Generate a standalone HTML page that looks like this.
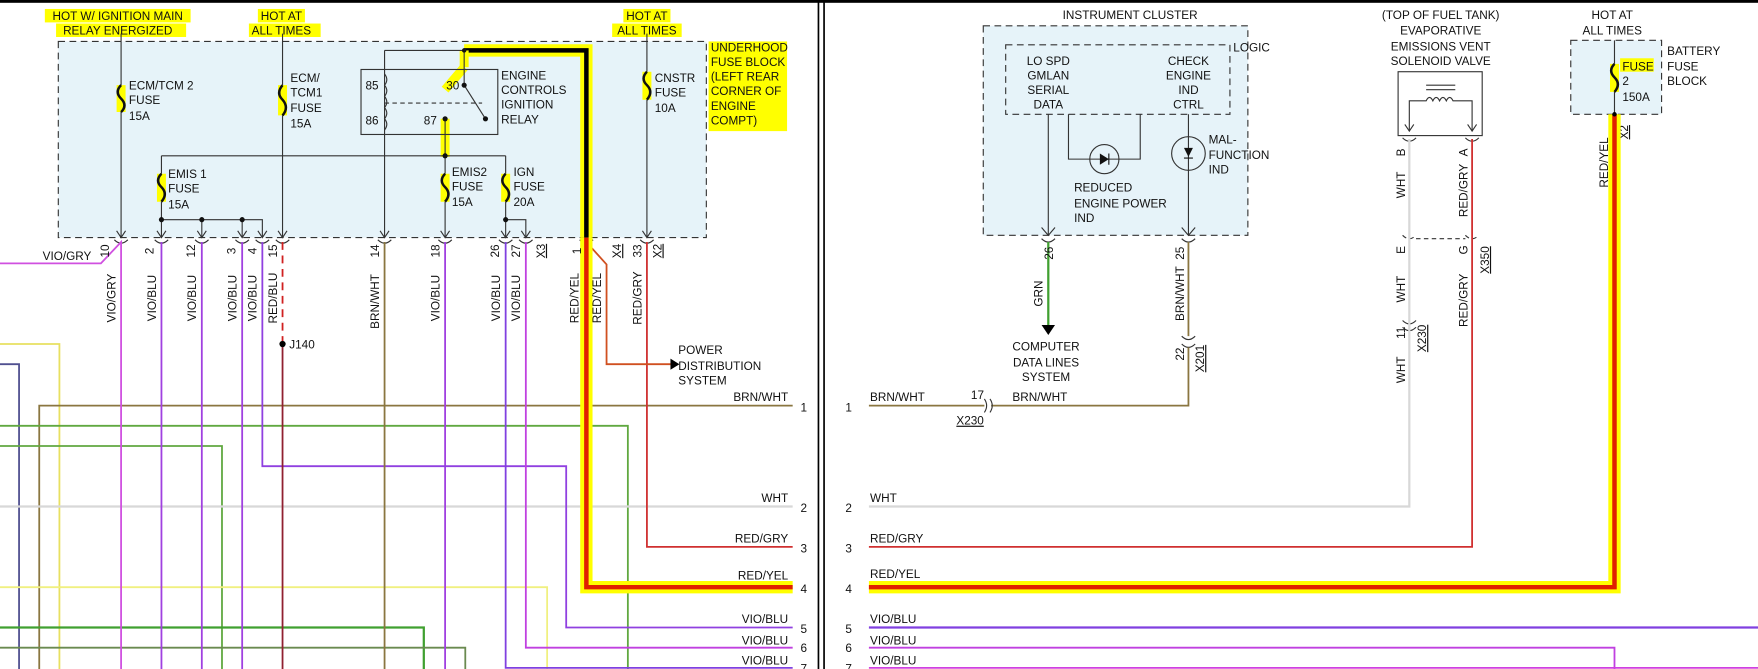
<!DOCTYPE html>
<html><head><meta charset="utf-8"><style>
html,body{margin:0;padding:0;background:#fff;width:1758px;height:669px;overflow:hidden}
svg{display:block}
text{font-family:"Liberation Sans",sans-serif;font-size:10.5px;fill:#111}
.r{font-size:10px}
</style></head><body>
<svg width="1758" height="669" viewBox="0 0 1568 597" preserveAspectRatio="none" xmlns="http://www.w3.org/2000/svg">
<rect x="0" y="0" width="1568" height="597" fill="#fff"/>
<rect x="0" y="0" width="1568" height="2.5" fill="#000"/>
<line x1="730" y1="0" x2="730" y2="597" stroke="#000" stroke-width="1.5"/>
<line x1="735" y1="0" x2="735" y2="597" stroke="#000" stroke-width="1.5"/>

<g fill="#ffff00">
<rect x="40" y="8" width="130" height="12"/><rect x="50" y="21" width="116" height="12"/>
<rect x="230" y="8" width="42" height="12"/><rect x="222" y="21" width="64" height="12"/>
<rect x="556" y="8" width="42" height="12"/><rect x="546" y="21" width="62" height="12"/>
<rect x="632" y="37" width="70" height="80"/>
<rect x="113" y="69" width="40" height="26"/>
<rect x="256" y="63" width="28" height="26"/>
<rect x="445" y="59" width="60" height="52"/>
<rect x="148" y="148" width="42" height="26"/>
<rect x="400" y="148" width="34" height="26"/>
<rect x="454" y="148" width="34" height="26"/>
</g>
<rect x="52" y="37" width="578" height="175" fill="#e6f3f9" stroke="#333" stroke-width="1" stroke-dasharray="6,4"/>
<path d="M414 45 H523 V212" fill="none" stroke="#ffff00" stroke-width="11"/>
<path d="M414 45 H523 V212" fill="none" stroke="#000" stroke-width="4"/>
<path d="M414 45 V60" stroke="#ffff00" stroke-width="8"/>
<path d="M397 80 L414 60 M397 106 V140" stroke="#ffff00" stroke-width="8" fill="none"/>
<g stroke="#ffff00" stroke-width="8" fill="none">
<path d="M108 76 V100"/><path d="M252 76 V103"/><path d="M577 64 V89"/><path d="M144 155 V180"/><path d="M397 155 V180"/><path d="M451 155 V180"/>
</g>
<text x="105" y="18" text-anchor="middle">HOT W/ IGNITION MAIN</text>
<text x="105" y="31" text-anchor="middle">RELAY ENERGIZED</text>
<text x="251" y="18" text-anchor="middle">HOT AT</text><text x="251" y="31" text-anchor="middle">ALL TIMES</text>
<text x="577" y="18" text-anchor="middle">HOT AT</text><text x="577" y="31" text-anchor="middle">ALL TIMES</text>
<text x="634" y="46">UNDERHOOD</text><text x="634" y="59">FUSE BLOCK</text><text x="634" y="72">(LEFT REAR</text><text x="634" y="85">CORNER OF</text><text x="634" y="98">ENGINE</text><text x="634" y="111">COMPT)</text>
<g stroke="#333" stroke-width="1" fill="none">
<path d="M108 30 V76 M108 100 V212"/>
<path d="M252 30 V76 M252 103 V212"/>
<path d="M577 30 V64 M577 89 V212"/>
<path d="M343 45 H414 M343 45 V212"/>
<rect x="322" y="62" width="122" height="58"/>
<path d="M343 92 H430" stroke-dasharray="4,3"/>
<path d="M414 76 L433 106"/>
<path d="M414 45 V76 M397 106 V155 M397 180 V212"/>
<path d="M144 139 H451 M144 139 V155 M144 180 V212 M451 139 V155 M451 180 V212"/>
<path d="M144 196 H234 V212 M180 196 V212 M216 196 V212 M451 196 H469 V212"/>
</g>
<path d="M343 66 q4 5 0 10 q4 5 0 10 q4 5 0 10 q4 5 0 10 q4 5 0 10" fill="none" stroke="#333"/>
<g fill="#111"><circle cx="414" cy="76" r="2.3"/><circle cx="397" cy="106" r="2.3"/><circle cx="433" cy="106" r="2.3"/><circle cx="397" cy="139" r="2.3"/><circle cx="144" cy="196" r="2.3"/><circle cx="180" cy="196" r="2.3"/><circle cx="216" cy="196" r="2.3"/><circle cx="451" cy="196" r="2.3"/><circle cx="414" cy="45" r="2"/></g>
<g stroke="#111" stroke-width="2.2" fill="none">
<path d="M108 76 q-6 6 0 12 q6 6 0 12"/><path d="M252 76 q-6 7 0 13 q6 7 0 14"/><path d="M577 64 q-6 6 0 12 q6 6 0 13"/>
<path d="M144 155 q-6 6 0 12 q6 6 0 13"/><path d="M397 155 q-6 6 0 12 q6 6 0 13"/><path d="M451 155 q-6 6 0 12 q6 6 0 13"/>
</g>
<text x="115" y="80">ECM/TCM 2</text><text x="115" y="93">FUSE</text><text x="115" y="107">15A</text>
<text x="259" y="73">ECM/</text><text x="259" y="86">TCM1</text><text x="259" y="100">FUSE</text><text x="259" y="114">15A</text>
<text x="584" y="73">CNSTR</text><text x="584" y="86">FUSE</text><text x="584" y="100">10A</text>
<text x="326" y="80">85</text><text x="326" y="111">86</text><text x="398" y="80">30</text><text x="378" y="111">87</text>
<text x="447" y="71">ENGINE</text><text x="447" y="84">CONTROLS</text><text x="447" y="97">IGNITION</text><text x="447" y="110">RELAY</text>
<text x="150" y="159">EMIS 1</text><text x="150" y="172">FUSE</text><text x="150" y="186">15A</text>
<text x="403" y="157">EMIS2</text><text x="403" y="170">FUSE</text><text x="403" y="184">15A</text>
<text x="458" y="157">IGN</text><text x="458" y="170">FUSE</text><text x="458" y="184">20A</text>

<g stroke="#333" stroke-width="1" fill="none">
<path d="M104 206 L108 212 L112 206 M140 206 L144 212 L148 206 M176 206 L180 212 L184 206 M212 206 L216 212 L220 206 M230 206 L234 212 L238 206 M248 206 L252 212 L256 206 M339 206 L343 212 L347 206 M393 206 L397 212 L401 206 M447 206 L451 212 L455 206 M465 206 L469 212 L473 206 M573 206 L577 212 L581 206"/>
<path d="M102 214 q6 6 12 0 M138 214 q6 6 12 0 M174 214 q6 6 12 0 M210 214 q6 6 12 0 M228 214 q6 6 12 0 M246 214 q6 6 12 0 M337 214 q6 6 12 0 M391 214 q6 6 12 0 M445 214 q6 6 12 0 M463 214 q6 6 12 0 M517 214 q6 6 12 0 M571 214 q6 6 12 0"/>
</g>
<g fill="none" stroke-width="1.6">
<path d="M0 307 H53 V597" stroke="#e8e060"/>
<path d="M0 325 H17 V597" stroke="#505090"/>
<path d="M707 362 H35 V597" stroke="#8a7640"/>
<path d="M0 380 H560 V597" stroke="#60a840"/>
<path d="M0 398 H198 V597" stroke="#60a840"/>
<path d="M0 452 H707" stroke="#d8d8d8" stroke-width="2"/>
<path d="M0 524 H488 V597" stroke="#f0f080"/>
<path d="M0 560 H378 V597" stroke="#40a030" stroke-width="2"/>
<path d="M0 578 H415 V597" stroke="#6a8a50"/>
<path d="M0 235 H90 L108 216 V597" stroke="#d050e0"/>
<path d="M144 216 V597 M180 216 V597 M216 216 V597 M397 216 V597" stroke="#a040e0"/>
<path d="M234 216 V416 H505 V560 H707" stroke="#9040e0"/>
<path d="M451 216 V596 H707" stroke="#8040e0"/>
<path d="M469 216 V578 H707" stroke="#c040e0"/>
<path d="M252 216 V307" stroke="#d02020" stroke-dasharray="7,5"/>
<path d="M252 307 V597" stroke="#902030"/>
<path d="M343 216 V597" stroke="#8a7640"/>
<path d="M577 216 V488 H707" stroke="#d03030"/>
<path d="M523 216 L541 236 V325 H598" stroke="#d05020"/>
</g>
<path d="M523 212 V524 H707" fill="none" stroke="#ffff00" stroke-width="11"/>
<path d="M523 212 V524 H707" fill="none" stroke="#e02000" stroke-width="4"/>
<path d="M598 320 L606 325 L598 330 Z" fill="#000"/>
<circle cx="252" cy="307" r="2.8" fill="#000"/>
<text x="258" y="311">J140</text>
<text x="605" y="316">POWER</text><text x="605" y="330">DISTRIBUTION</text><text x="605" y="343">SYSTEM</text>
<text x="38" y="232">VIO/GRY</text>
<g class="r">
<text transform="translate(97,224) rotate(-90)" text-anchor="middle">10</text>
<text transform="translate(137,224) rotate(-90)" text-anchor="middle">2</text>
<text transform="translate(174,224) rotate(-90)" text-anchor="middle">12</text>
<text transform="translate(210,224) rotate(-90)" text-anchor="middle">3</text>
<text transform="translate(229,224) rotate(-90)" text-anchor="middle">4</text>
<text transform="translate(247,224) rotate(-90)" text-anchor="middle">15</text>
<text transform="translate(338,224) rotate(-90)" text-anchor="middle">14</text>
<text transform="translate(392,224) rotate(-90)" text-anchor="middle">18</text>
<text transform="translate(445,224) rotate(-90)" text-anchor="middle">26</text>
<text transform="translate(464,224) rotate(-90)" text-anchor="middle">27</text>
<text transform="translate(518,224) rotate(-90)" text-anchor="middle">1</text>
<text transform="translate(572,224) rotate(-90)" text-anchor="middle">33</text>
<text transform="translate(486,224) rotate(-90)" text-anchor="middle" text-decoration="underline">X3</text>
<text transform="translate(554,224) rotate(-90)" text-anchor="middle" text-decoration="underline">X4</text>
<text transform="translate(590,224) rotate(-90)" text-anchor="middle" text-decoration="underline">X2</text>
<text transform="translate(103,266) rotate(-90)" text-anchor="middle">VIO/GRY</text>
<text transform="translate(139,266) rotate(-90)" text-anchor="middle">VIO/BLU</text>
<text transform="translate(175,266) rotate(-90)" text-anchor="middle">VIO/BLU</text>
<text transform="translate(211,266) rotate(-90)" text-anchor="middle">VIO/BLU</text>
<text transform="translate(229,266) rotate(-90)" text-anchor="middle">VIO/BLU</text>
<text transform="translate(247,266) rotate(-90)" text-anchor="middle">RED/BLU</text>
<text transform="translate(338,269) rotate(-90)" text-anchor="middle">BRN/WHT</text>
<text transform="translate(392,266) rotate(-90)" text-anchor="middle">VIO/BLU</text>
<text transform="translate(446,266) rotate(-90)" text-anchor="middle">VIO/BLU</text>
<text transform="translate(464,266) rotate(-90)" text-anchor="middle">VIO/BLU</text>
<text transform="translate(516,266) rotate(-90)" text-anchor="middle">RED/YEL</text>
<text transform="translate(536,266) rotate(-90)" text-anchor="middle">RED/YEL</text>
<text transform="translate(572,266) rotate(-90)" text-anchor="middle">RED/GRY</text>
</g>
<g text-anchor="end">
<text x="703" y="358">BRN/WHT</text><text x="703" y="448">WHT</text><text x="703" y="484">RED/GRY</text><text x="703" y="517">RED/YEL</text><text x="703" y="556">VIO/BLU</text><text x="703" y="575">VIO/BLU</text><text x="703" y="593">VIO/BLU</text>
</g>
<g><text x="714" y="367">1</text><text x="714" y="457">2</text><text x="714" y="493">3</text><text x="714" y="529">4</text><text x="714" y="565">5</text><text x="714" y="582">6</text><text x="714" y="600">7</text></g>
<g><text x="754" y="367">1</text><text x="754" y="457">2</text><text x="754" y="493">3</text><text x="754" y="529">4</text><text x="754" y="565">5</text><text x="754" y="582">6</text><text x="754" y="600">7</text></g>

<text x="1008" y="17" text-anchor="middle">INSTRUMENT CLUSTER</text>
<rect x="877" y="23" width="236" height="187" fill="#e6f3f9" stroke="#333" stroke-dasharray="6,4"/>
<rect x="897" y="40" width="200" height="62" fill="none" stroke="#333" stroke-dasharray="6,4"/>
<text x="1100" y="46">LOGIC</text>
<g text-anchor="middle">
<text x="935" y="58">LO SPD</text><text x="935" y="71">GMLAN</text><text x="935" y="84">SERIAL</text><text x="935" y="97">DATA</text>
<text x="1060" y="58">CHECK</text><text x="1060" y="71">ENGINE</text><text x="1060" y="84">IND</text><text x="1060" y="97">CTRL</text>
<text x="933" y="313">COMPUTER</text><text x="933" y="327">DATA LINES</text><text x="933" y="340">SYSTEM</text>
<text x="1285" y="17">(TOP OF FUEL TANK)</text><text x="1285" y="31">EVAPORATIVE</text><text x="1285" y="45">EMISSIONS VENT</text><text x="1285" y="58">SOLENOID VALVE</text>
<text x="1438" y="17">HOT AT</text><text x="1438" y="31">ALL TIMES</text>
</g>
<g stroke="#333" fill="none">
<path d="M935 102 V210 M929 203 L935 210 L941 203"/>
<path d="M953 102 V142 H1017 V102"/>
<circle cx="985" cy="142" r="13"/>
<path d="M1060 102 V210 M1054 203 L1060 210 L1066 203"/>
<circle cx="1060" cy="137" r="15"/>
<path d="M929 213 q6 6 12 0 M1054 213 q6 6 12 0"/>
<path d="M1054 300 q6 6 12 0 M1054 307 q6 6 12 0"/>
</g>
<path d="M981 137 L989 142 L981 147 Z M1056 132 L1064 132 L1060 140 Z" fill="#111"/>
<path d="M1056 141 H1064 M989 137 V147" stroke="#111"/>
<text x="958" y="171">REDUCED</text><text x="958" y="185">ENGINE POWER</text><text x="958" y="198">IND</text>
<text x="1078" y="128">MAL-</text><text x="1078" y="142">FUNCTION</text><text x="1078" y="155">IND</text>
<path d="M935 216 V290" stroke="#40a030" stroke-width="2"/>
<path d="M929 290 L935 299 L941 290 Z" fill="#000"/>
<path d="M1060 216 V300 M1060 310 V362 H884 M878 362 H775" stroke="#8a7640" stroke-width="1.6" fill="none"/>
<path d="M878 356 q4 6 0 12 M883 356 q4 6 0 12" stroke="#333" fill="none"/>
<text x="866" y="356">17</text><text x="853" y="379" text-decoration="underline">X230</text>
<text x="776" y="358">BRN/WHT</text><text x="903" y="358">BRN/WHT</text>
<text x="776" y="448">WHT</text><text x="776" y="484">RED/GRY</text><text x="776" y="556">VIO/BLU</text><text x="776" y="575">VIO/BLU</text><text x="776" y="593">VIO/BLU</text>
<g class="r">
<text transform="translate(939,226) rotate(-90)" text-anchor="middle">26</text>
<text transform="translate(930,262) rotate(-90)" text-anchor="middle">GRN</text>
<text transform="translate(1056,226) rotate(-90)" text-anchor="middle">25</text>
<text transform="translate(1056,262) rotate(-90)" text-anchor="middle">BRN/WHT</text>
<text transform="translate(1056,316) rotate(-90)" text-anchor="middle">22</text>
<text transform="translate(1074,320) rotate(-90)" text-anchor="middle" text-decoration="underline">X201</text>
<text transform="translate(1253,136) rotate(-90)" text-anchor="middle">B</text>
<text transform="translate(1253,165) rotate(-90)" text-anchor="middle">WHT</text>
<text transform="translate(1309,136) rotate(-90)" text-anchor="middle">A</text>
<text transform="translate(1309,170) rotate(-90)" text-anchor="middle">RED/GRY</text>
<text transform="translate(1253,223) rotate(-90)" text-anchor="middle">E</text>
<text transform="translate(1253,258) rotate(-90)" text-anchor="middle">WHT</text>
<text transform="translate(1309,223) rotate(-90)" text-anchor="middle">G</text>
<text transform="translate(1309,268) rotate(-90)" text-anchor="middle">RED/GRY</text>
<text transform="translate(1328,232) rotate(-90)" text-anchor="middle" text-decoration="underline">X350</text>
<text transform="translate(1253,297) rotate(-90)" text-anchor="middle">11</text>
<text transform="translate(1272,302) rotate(-90)" text-anchor="middle" text-decoration="underline">X230</text>
<text transform="translate(1253,330) rotate(-90)" text-anchor="middle">WHT</text>
<text transform="translate(1434,145) rotate(-90)" text-anchor="middle">RED/YEL</text>
<text transform="translate(1452,118) rotate(-90)" text-anchor="middle" text-decoration="underline">X2</text>
</g>
<rect x="1247" y="64" width="75" height="57" fill="#fff" stroke="#333"/>
<g stroke="#333" fill="none">
<path d="M1272 76 H1298 M1272 80 H1298"/>
<path d="M1257 116 V90 H1272 q3 -6 6 0 q3 -6 6 0 q3 -6 6 0 q3 -6 6 0 H1313 V116"/>
<path d="M1253 111 L1257 117 L1261 111 M1309 111 L1313 117 L1317 111"/>
<path d="M1251 123 q6 6 12 0 M1307 123 q6 6 12 0"/>
<path d="M1251 210 q6 6 12 0 M1307 210 q6 6 12 0 M1263 213 H1307" stroke-dasharray="4,3"/>
<path d="M1251 286 q6 6 12 0 M1251 292 q6 6 12 0"/>
</g>
<path d="M1257 124 V452 H775" fill="none" stroke="#d8d8d8" stroke-width="2"/>
<path d="M1313 124 V488 H775" fill="none" stroke="#d03030" stroke-width="1.6"/>
<rect x="1401" y="36" width="81" height="66" fill="#e6f3f9" stroke="#333" stroke-dasharray="6,4"/>
<rect x="1445" y="52" width="30" height="12" fill="#ffff00"/>
<path d="M1440 57 V82" stroke="#ffff00" stroke-width="8"/>
<path d="M1440 36 V57 M1440 82 V102" stroke="#333"/>
<path d="M1440 57 q-6 6 0 12 q6 6 0 13" stroke="#111" stroke-width="2.2" fill="none"/>
<text x="1447" y="63">FUSE</text><text x="1447" y="76">2</text><text x="1447" y="90">150A</text>
<text x="1487" y="49">BATTERY</text><text x="1487" y="63">FUSE</text><text x="1487" y="76">BLOCK</text>
<path d="M1440 102 V524 H775" fill="none" stroke="#ffff00" stroke-width="11"/>
<path d="M1440 102 V524 H775" fill="none" stroke="#e02000" stroke-width="4"/>
<text x="776" y="516">RED/YEL</text>
<circle cx="1440" cy="102" r="2" fill="#000"/>
<path d="M775 560 H1568" stroke="#8040e0" stroke-width="2"/>
<path d="M775 578 H1440 V597" stroke="#c040e0" stroke-width="1.6" fill="none"/>
<path d="M775 596 H1568" stroke="#d040e0" stroke-width="1.6"/>
</svg>
</body></html>
